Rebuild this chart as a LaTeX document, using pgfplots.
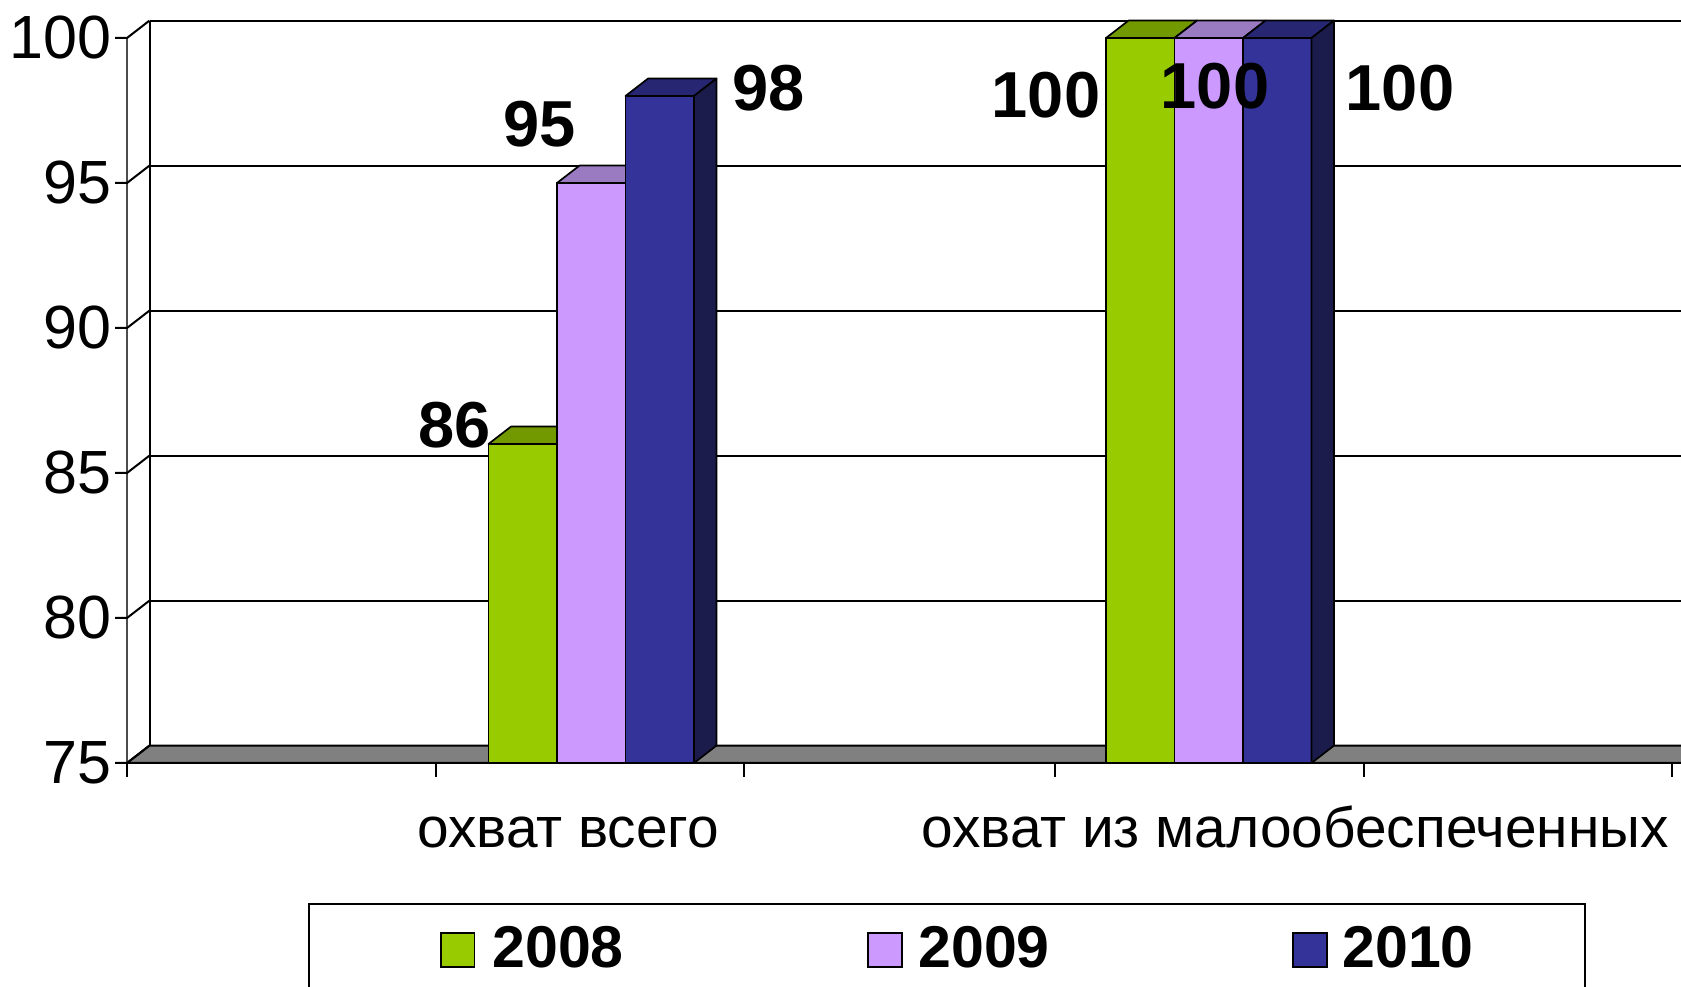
\documentclass[border=0pt]{standalone}
\usepackage{fontspec}
\setmainfont{Liberation Sans}
\usepackage{pgfplots}
\usepackage{pgfplotstable}
\pgfplotsset{compat=1.18}

\definecolor{cGreen}{HTML}{99CC00}
\definecolor{cGreenTop}{HTML}{739900}
\definecolor{cPurple}{HTML}{CC99FF}
\definecolor{cPurpleTop}{HTML}{9A7AC0}
\definecolor{cBlue}{HTML}{333399}
\definecolor{cBlueTop}{HTML}{262673}
\definecolor{cBlueSide}{HTML}{1C1C4C}
\definecolor{cFloor}{HTML}{808080}

% x = bar centre (pixel units), v = value (%)
\pgfplotstableread{
x v
522.75 86
1140.25 100
}\tA
\pgfplotstableread{
x v
591.25 95
1208.75 100
}\tB
\pgfplotstableread{
x v
659.75 98
1277.25 100
}\tC

\newcommand\bw{68.5}

% top face of each bar of a series
\newcommand\topfaces[2]{%
  \pgfplotsforeachungrouped \r in {0,1}{%
    \pgfplotstablegetelem{\r}{x}\of{#1}\let\xc\pgfplotsretval
    \pgfplotstablegetelem{\r}{v}\of{#1}\pgfmathsetmacro\uu{\pgfplotsretval-75}%
    \pgfmathsetmacro\xl{\xc-\bw/2}%
    \pgfmathsetmacro\xr{\xc+\bw/2}%
    \edef\cmd{\noexpand\filldraw[fill=#2,draw=black,line width=0.85pt,line join=round]
      (axis cs:\xl,\uu) -- (axis cs:\xr,\uu) -- ++(11.25pt,8.7pt) -- ++(-34.25pt,0pt) -- cycle;}%
    \cmd
  }%
}
% right side face of each bar of a series
\newcommand\sidefaces[2]{%
  \pgfplotsforeachungrouped \r in {0,1}{%
    \pgfplotstablegetelem{\r}{x}\of{#1}\let\xc\pgfplotsretval
    \pgfplotstablegetelem{\r}{v}\of{#1}\pgfmathsetmacro\uu{\pgfplotsretval-75}%
    \pgfmathsetmacro\hh{\uu*14.5}%
    \pgfmathsetmacro\xr{\xc+\bw/2}%
    \edef\cmd{\noexpand\filldraw[fill=#2,draw=black,line width=0.85pt,line join=round]
      (axis cs:\xr,0) -- (axis cs:\xr,\uu) -- ++(11.25pt,8.7pt) -- ++(0pt,-\hh pt) -- cycle;}%
    \cmd
  }%
}

\begin{document}
\begin{tikzpicture}
\begin{axis}[
  hide axis, scale only axis,
  width=840.5pt, height=493.5pt,
  xmin=0, xmax=1681, ymin=-7.7241, ymax=26.3103,
  clip=true,
]
% floor
\filldraw[fill=cFloor, draw=black, line width=1pt, line join=round]
  (axis cs:127,0) -- (axis cs:1700,0) -- (axis cs:1700,0.6) -- (axis cs:149.5,0.6) -- cycle;
% back wall grid lines
\pgfplotsinvokeforeach{5.6,10.6,15.6,20.6,25.6}{
  \draw[line width=1pt] (axis cs:149.5,#1) -- (axis cs:1700,#1);
}
\draw[line width=1pt] (axis cs:149.5,0.6) -- (axis cs:149.5,25.6);
% side wall front edge
\draw[line width=1pt, gray!60!black] (axis cs:127,0) -- (axis cs:127,25);
% y ticks + connectors
\pgfplotsinvokeforeach{0,5,10,15,20,25}{
  \draw[line width=1pt] (axis cs:115,#1) -- (axis cs:127,#1) -- ++(11.25pt,8.7pt);
}
% x ticks
\pgfplotsinvokeforeach{127,436,744,1055,1364,1672}{
  \draw[line width=1pt] (axis cs:#1,0) -- (axis cs:#1,-0.483);
}
% y tick labels
\begin{scope}[every node/.style={anchor=east, inner sep=0pt, font=\fontsize{30.5}{36}\selectfont}]
\node at (axis cs:112,0) {75};
\node at (axis cs:112,5) {80};
\node at (axis cs:112,10) {85};
\node at (axis cs:112,15) {90};
\node at (axis cs:112,20) {95};
\node at (axis cs:112,25) {100};
\end{scope}

% bars: 2008
\addplot[ybar, bar width=\bw, bar shift=0pt, fill=cGreen, draw=black, line width=0.85pt]
  table[x=x, y expr=\thisrow{v}-75]{\tA};
\topfaces{\tA}{cGreenTop}
% 2009
\addplot[ybar, bar width=\bw, bar shift=0pt, fill=cPurple, draw=black, line width=0.85pt]
  table[x=x, y expr=\thisrow{v}-75]{\tB};
\topfaces{\tB}{cPurpleTop}
% 2010
\addplot[ybar, bar width=\bw, bar shift=0pt, fill=cBlue, draw=black, line width=0.85pt]
  table[x=x, y expr=\thisrow{v}-75]{\tC};
\topfaces{\tC}{cBlueTop}
\sidefaces{\tC}{cBlueSide}

% data labels
\begin{scope}[every node/.style={anchor=center, inner sep=0pt, font=\fontsize{32.5}{39}\selectfont\bfseries}]
\node at (axis cs:455,11.655) {86};
\node at (axis cs:540,22.03) {95};
\node at (axis cs:769,23.28) {98};
\node at (axis cs:1046,23.02) {100};
\node at (axis cs:1215,23.34) {100};
\node at (axis cs:1400,23.26) {100};
\end{scope}

% category labels
\begin{scope}[every node/.style={anchor=base, inner sep=0pt, font=\fontsize{28.4}{34}\selectfont}]
\node at (axis cs:568,-2.931) {охват всего};
\node at (axis cs:1295,-2.931) {охват из малообеспеченных};
\end{scope}

% legend
\draw[line width=1pt] (axis cs:309,-9) -- (axis cs:309,-4.862) -- (axis cs:1585,-4.862) -- (axis cs:1585,-9);
\filldraw[fill=cGreen, draw=black, line width=0.8pt] (axis cs:441,-5.862) rectangle (axis cs:474.5,-7.034);
\filldraw[fill=cPurple, draw=black, line width=0.8pt] (axis cs:868,-5.862) rectangle (axis cs:902,-7.034);
\filldraw[fill=cBlue, draw=black, line width=0.8pt] (axis cs:1293,-5.862) rectangle (axis cs:1327,-7.034);
\begin{scope}[every node/.style={anchor=base west, inner sep=0pt, font=\fontsize{29.5}{35}\selectfont\bfseries}]
\node at (axis cs:492,-7.069) {2008};
\node at (axis cs:918,-7.069) {2009};
\node at (axis cs:1342,-7.069) {2010};
\end{scope}
\end{axis}
\pgfresetboundingbox
\useasboundingbox (current axis.south west) rectangle (current axis.north east);
\end{tikzpicture}
\end{document}
